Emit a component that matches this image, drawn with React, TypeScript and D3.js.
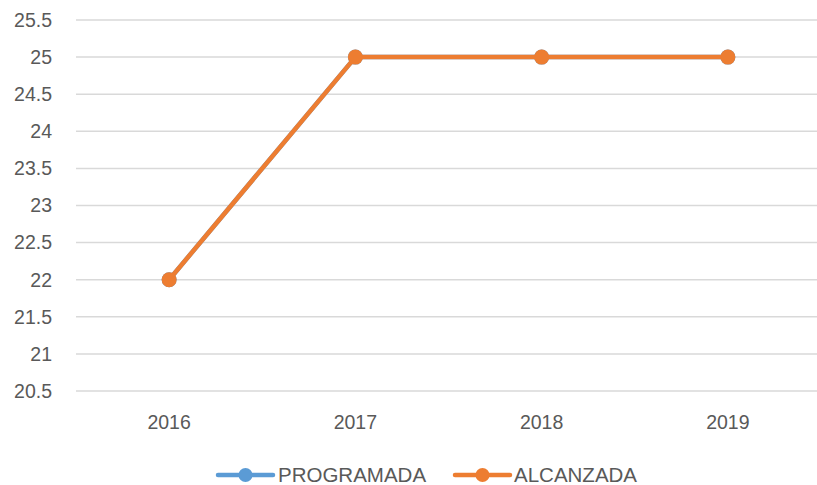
import React from "react";
import * as d3 from "d3";

const years = ["2016", "2017", "2018", "2019"];
const programada = [22, 25, 25, 25];
const alcanzada = [22, 25, 25, 25];
const yTicks = [20.5, 21, 21.5, 22, 22.5, 23, 23.5, 24, 24.5, 25, 25.5];
const seriesNames = ["PROGRAMADA", "ALCANZADA"];
const colors = ["#5B9BD5", "#ED7D31"];

const W = 817;
const H = 485;

export default function App() {
  const x = d3.scaleBand<string>().domain(years).range([76, 821]);
  const y = d3.scaleLinear().domain([20.5, 25.5]).range([391, 20]);
  const cx = (d: string) => (x(d) ?? 0) + x.bandwidth() / 2;
  const line = d3
    .line<number>()
    .x((_, i) => cx(years[i]))
    .y((v) => y(v));
  const series = [programada, alcanzada];
  const font = "'Liberation Sans', Arial, sans-serif";
  const legendItems = [
    { x0: 218, tx: 278 },
    { x0: 455, tx: 514 },
  ];
  return (
    <svg
      width={W}
      height={H}
      style={{ position: "absolute", left: 0, top: 0, background: "#fff" }}
    >
      {yTicks.map((t) => (
        <g key={t}>
          <line x1={76} x2={W} y1={y(t)} y2={y(t)} stroke="#D9D9D9" strokeWidth={1.5} />
          <text
            x={52}
            y={y(t)}
            dy="0.35em"
            textAnchor="end"
            fontFamily={font}
            fontSize={19.5}
            fill="#595959"
          >
            {t}
          </text>
        </g>
      ))}
      {years.map((yr) => (
        <text
          key={yr}
          x={cx(yr)}
          y={429}
          textAnchor="middle"
          fontFamily={font}
          fontSize={19.5}
          fill="#595959"
        >
          {yr}
        </text>
      ))}
      {series.map((s, si) => (
        <g key={si}>
          <path d={line(s) ?? ""} fill="none" stroke={colors[si]} strokeWidth={4.5} strokeLinejoin="round" />
          {s.map((v, i) => (
            <circle key={i} cx={cx(years[i])} cy={y(v)} r={7.5} fill={colors[si]} />
          ))}
        </g>
      ))}
      {seriesNames.map((n, i) => (
        <g key={n}>
          <line
            x1={legendItems[i].x0}
            x2={legendItems[i].x0 + 55}
            y1={475}
            y2={475}
            stroke={colors[i]}
            strokeWidth={4.5}
            strokeLinecap="round"
          />
          <circle cx={legendItems[i].x0 + 27.5} cy={475} r={7} fill={colors[i]} />
          <text
            x={legendItems[i].tx}
            y={475}
            dy="0.35em"
            fontFamily={font}
            fontSize={20.5}
            fill="#595959"
          >
            {n}
          </text>
        </g>
      ))}
    </svg>
  );
}
